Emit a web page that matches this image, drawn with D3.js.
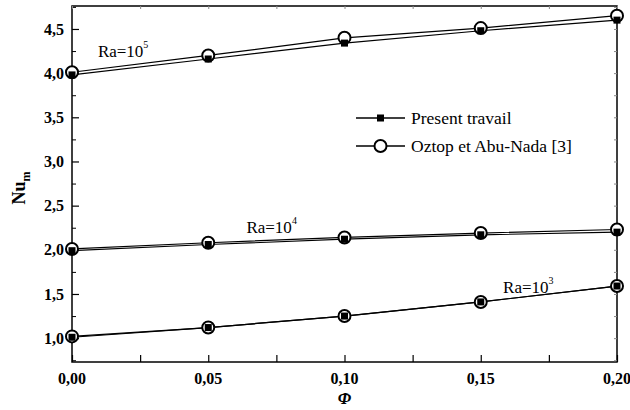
<!DOCTYPE html>
<html>
<head>
<meta charset="utf-8">
<script src="https://d3js.org/d3.v7.min.js"></script>
<style>
  body { margin: 0; background: #fff; }
  text { font-family: "Liberation Serif", "Times New Roman", serif; }
</style>
</head>
<body>
<svg id="chart" width="630" height="410"></svg>
<script>
// data
var phi = [0, 0.05, 0.10, 0.15, 0.20];
var present5 = [3.98, 4.16, 4.34, 4.48, 4.60];
var oztop5 = [4.01, 4.20, 4.40, 4.51, 4.65];
var present4 = [1.99, 2.06, 2.12, 2.17, 2.20];
var oztop4 = [2.01, 2.08, 2.14, 2.19, 2.23];
var present3 = [1.01, 1.12, 1.25, 1.41, 1.59];
var oztop3 = [1.02, 1.12, 1.25, 1.41, 1.59];
var xTicks = [0, 0.05, 0.10, 0.15, 0.20];
var yTicks = [1.0, 1.5, 2.0, 2.5, 3.0, 3.5, 4.0, 4.5];
var raLabels = [
  { exp: "5", phi: 0.0095, nu: 4.18 },
  { exp: "4", phi: 0.064, nu: 2.19 },
  { exp: "3", phi: 0.1582, nu: 1.51 }
];

var svg = d3.select("#chart");
var margin = { top: 6, right: 13, bottom: 48, left: 72 };
var width = 630 - margin.left - margin.right;
var height = 410 - margin.top - margin.bottom;
var g = svg.append("g").attr("transform", "translate(" + margin.left + "," + margin.top + ")");

var x = d3.scaleLinear().domain([0, 0.2]).range([0, width]);
var y = d3.scaleLinear().domain([0.73, 4.76]).range([height, 0]);
var comma = function(f) { return function(d) { return d3.format(f)(d).replace(".", ","); }; };

// frame
g.append("rect").attr("width", width).attr("height", height)
  .attr("fill", "none").attr("stroke", "#000").attr("stroke-width", 1.5);

// bottom axis, ticks inward
var bottomAx = g.append("g").attr("transform", "translate(0," + height + ")")
  .call(d3.axisBottom(x).tickValues(d3.range(0, 0.2001, 0.025)).tickSizeInner(-7).tickSizeOuter(0).tickFormat(""));
bottomAx.select(".domain").remove();
bottomAx.selectAll("line").attr("stroke-width", 1.2);
g.append("g").selectAll("text").data(xTicks).enter().append("text")
  .attr("x", function(d) { return x(d); }).attr("y", height + 22)
  .attr("text-anchor", "middle").attr("font-size", 16).attr("font-weight", "bold")
  .text(comma(".2f"));

// left axis
var leftAx = g.append("g")
  .call(d3.axisLeft(y).tickValues(yTicks).tickSizeInner(-7).tickSizeOuter(0).tickPadding(8).tickFormat(comma(".1f")));
leftAx.select(".domain").remove();
leftAx.selectAll("line").attr("stroke-width", 1.2);
leftAx.selectAll("text").attr("font-size", 16).attr("font-weight", "bold")
  .attr("font-family", "Liberation Serif, serif");
var leftMinor = g.append("g")
  .call(d3.axisLeft(y).tickValues(d3.range(0.75, 4.76, 0.5)).tickSizeInner(-4).tickSizeOuter(0).tickFormat(""));
leftMinor.select(".domain").remove();

// small ticks on top and right
var topAx = g.append("g")
  .call(d3.axisTop(x).tickValues(d3.range(0, 0.2001, 0.025)).tickSizeInner(-3).tickSizeOuter(0).tickFormat(""));
topAx.select(".domain").remove();
topAx.selectAll("line").attr("stroke", "#888");
var rightAx = g.append("g").attr("transform", "translate(" + width + ",0)")
  .call(d3.axisRight(y).tickValues(d3.range(0.75, 4.76, 0.25)).tickSizeInner(-3).tickSizeOuter(0).tickFormat(""));
rightAx.select(".domain").remove();
rightAx.selectAll("line").attr("stroke", "#888");

// axis titles
var yt = svg.append("text").attr("transform", "translate(25," + (margin.top + y(2.7)) + ") rotate(-90)")
  .attr("text-anchor", "middle").attr("font-size", 18).attr("font-weight", "bold");
yt.append("tspan").text("Nu");
yt.append("tspan").attr("font-size", 12).attr("dy", 5).text("m");
svg.append("text").attr("x", margin.left + width / 2).attr("y", 404)
  .attr("text-anchor", "middle").attr("font-size", 17).attr("font-weight", "bold")
  .attr("font-style", "italic").text("\u03A6");

// series
var series = [
  { vals: present5, kind: "square" }, { vals: oztop5, kind: "circle" },
  { vals: present4, kind: "square" }, { vals: oztop4, kind: "circle" },
  { vals: present3, kind: "square" }, { vals: oztop3, kind: "circle" }
];
var line = d3.line().x(function(d, i) { return x(phi[i]); }).y(function(d) { return y(d); });

g.selectAll(".ln").data(series).enter().append("path")
  .attr("class", "ln").attr("d", function(s) { return line(s.vals); })
  .attr("fill", "none").attr("stroke", "#000").attr("stroke-width", 1.2);

series.filter(function(s) { return s.kind === "circle"; }).forEach(function(s) {
  g.selectAll(null).data(s.vals).enter().append("circle")
    .attr("cx", function(d, i) { return x(phi[i]); }).attr("cy", function(d) { return y(d); })
    .attr("r", 6).attr("fill", "#fff").attr("stroke", "#000").attr("stroke-width", 2);
});
series.filter(function(s) { return s.kind === "square"; }).forEach(function(s) {
  g.selectAll(null).data(s.vals).enter().append("rect")
    .attr("x", function(d, i) { return x(phi[i]) - 3.5; }).attr("y", function(d) { return y(d) - 3.5; })
    .attr("width", 7).attr("height", 7).attr("fill", "#000");
});

// Ra labels
raLabels.forEach(function(r) {
  var t = g.append("text").attr("x", x(r.phi)).attr("y", y(r.nu)).attr("font-size", 17);
  t.append("tspan").text("Ra=10");
  t.append("tspan").attr("font-size", 10).attr("dy", -9).text(r.exp);
});

// legend
var legend = [
  { name: "Present travail", kind: "square" },
  { name: "Oztop et Abu-Nada [3]", kind: "circle" }
];
var lg = svg.append("g").attr("transform", "translate(356,118)");
legend.forEach(function(l, i) {
  var row = lg.append("g").attr("transform", "translate(0," + (i * 28) + ")");
  row.append("line").attr("x1", 0).attr("x2", 49).attr("stroke", "#000").attr("stroke-width", 1.3);
  if (l.kind === "square") {
    row.append("rect").attr("x", 21).attr("y", -3.5).attr("width", 7).attr("height", 7).attr("fill", "#000");
  } else {
    row.append("circle").attr("cx", 24.5).attr("r", 6).attr("fill", "#fff").attr("stroke", "#000").attr("stroke-width", 2);
  }
  row.append("text").attr("x", 55).attr("y", 5.5).attr("font-size", 17.5).text(l.name);
});
</script>
</body>
</html>
